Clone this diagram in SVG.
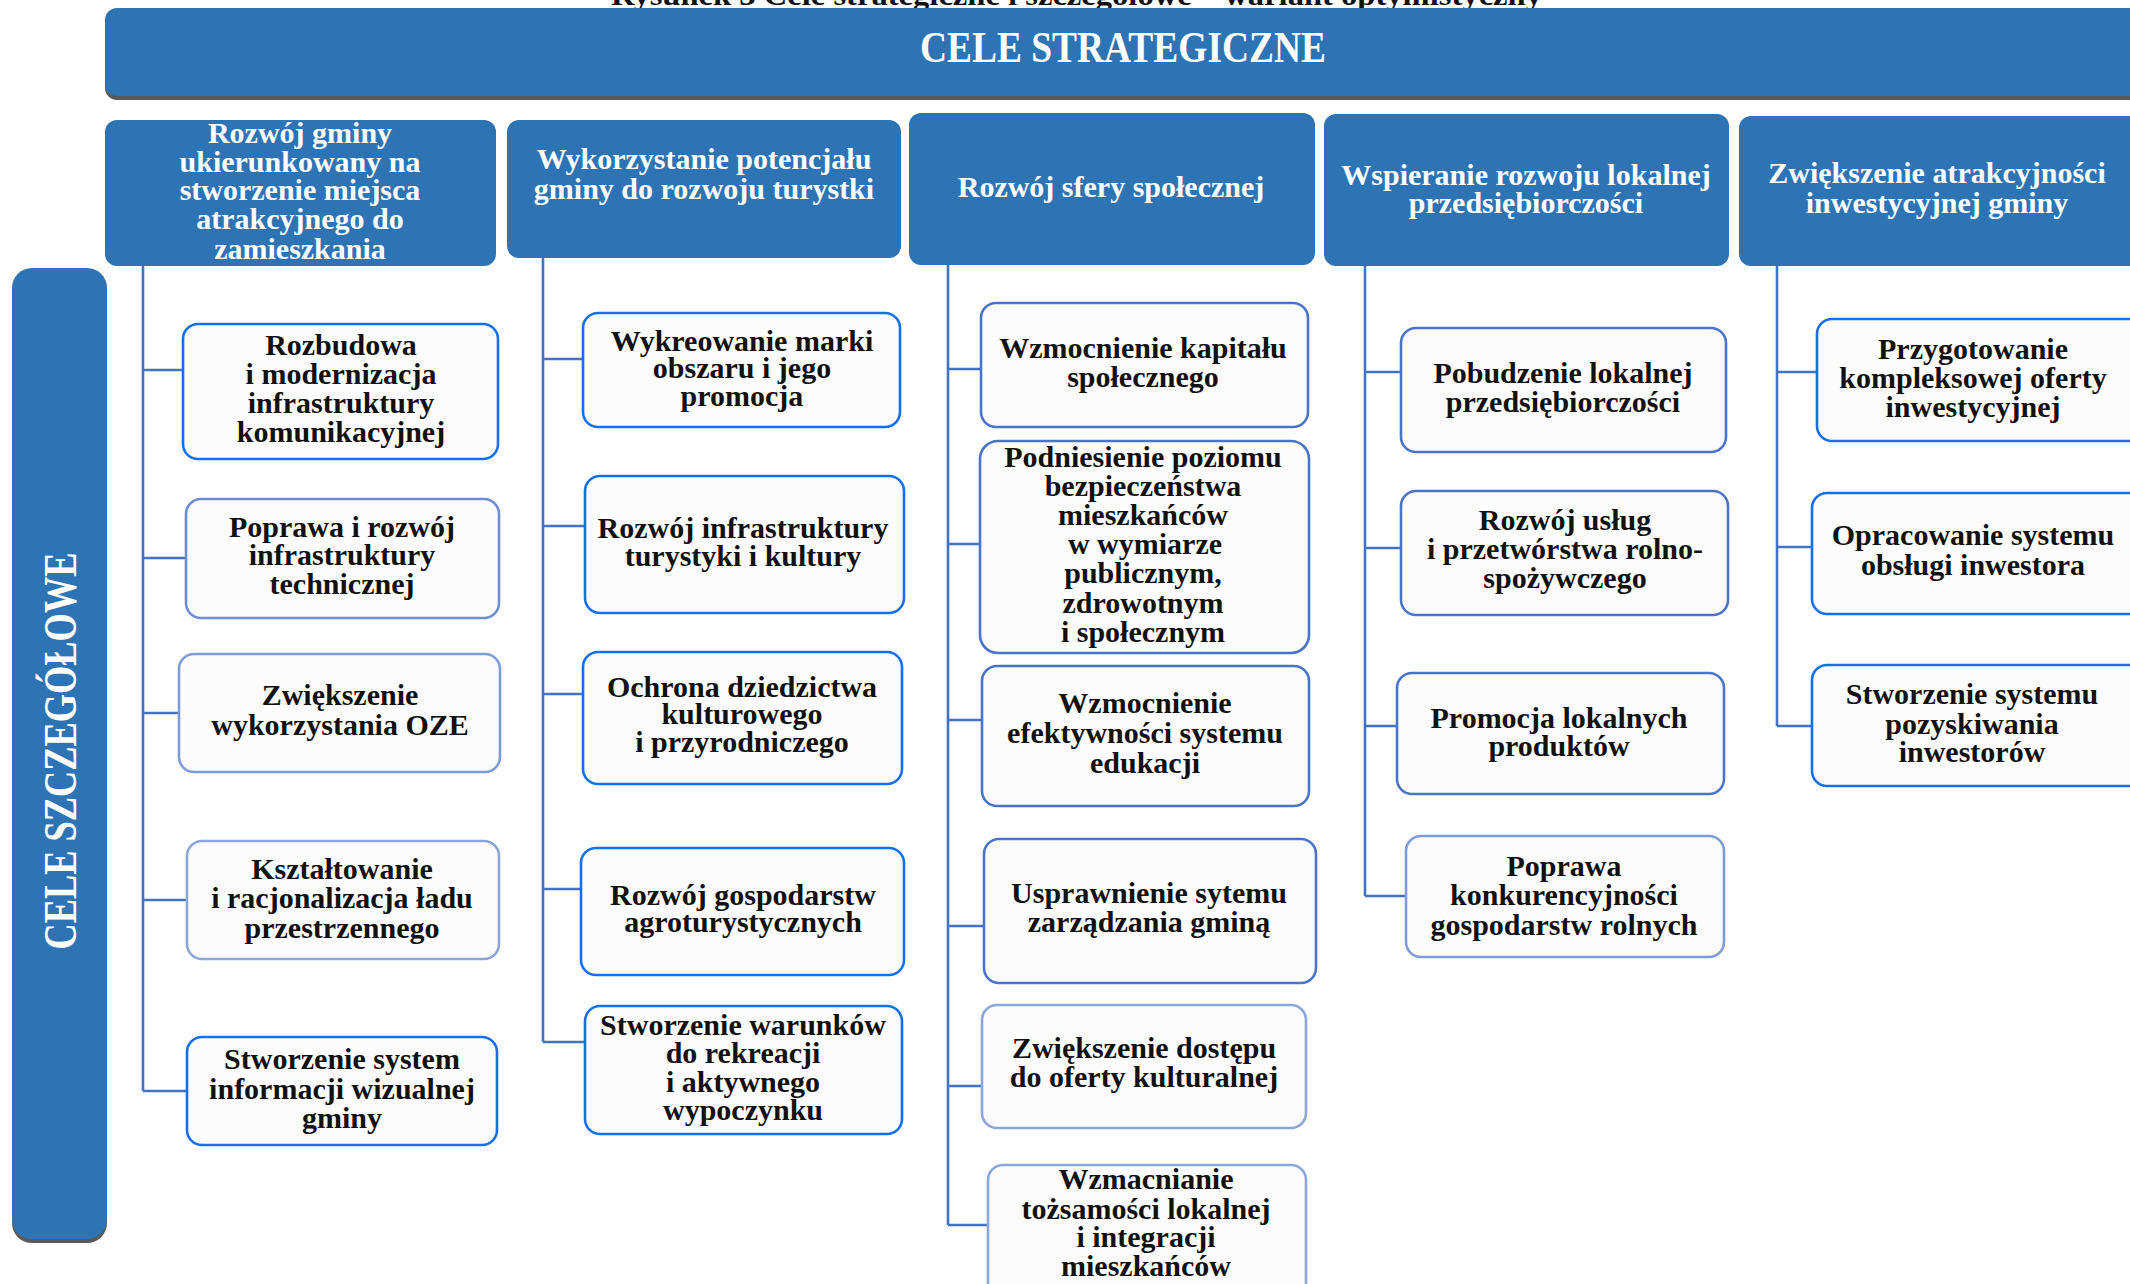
<svg xmlns="http://www.w3.org/2000/svg" width="2130" height="1284" viewBox="0 0 2130 1284">
<style>
.hdr{fill:#2E74B5}
.shadow{fill:#5a5a5a}
.ht{font-family:"Liberation Serif",serif;font-weight:bold;font-size:30px;fill:#fff;text-anchor:middle}
.box{fill:#fcfcfc;stroke-width:2.6}
.b1{stroke:#1470F0}
.b2{stroke:#4A74C8}
.b3{stroke:#8DA6DA}
.b4{stroke:#6E8ED4}
.b5{stroke:#7F9CD9}
.st{font-family:"Liberation Serif",serif;font-weight:bold;font-size:30px;fill:#111;text-anchor:middle}
.conn{stroke:#4472C4;stroke-width:2.6;fill:none}
</style>
<rect width="2130" height="1284" fill="#ffffff"/>
<text x="611" y="5" font-family="Liberation Serif, serif" font-weight="bold" font-size="30" fill="#111" textLength="931" lengthAdjust="spacingAndGlyphs">Rysunek 3 Cele strategiczne i szczegółowe – wariant optymistyczny</text>
<g id="banner">
<rect class="shadow" x="105" y="12" width="2050" height="88" rx="12"/>
<rect class="hdr" x="105" y="8" width="2050" height="88" rx="12"/>
<text x="1123" y="62" font-family="Liberation Serif, serif" font-weight="bold" font-size="44" fill="#fff" text-anchor="middle" textLength="406" lengthAdjust="spacingAndGlyphs">CELE STRATEGICZNE</text>
</g>
<g id="cele-szczegolowe">
<rect class="shadow" x="12" y="272" width="95" height="971" rx="20"/>
<rect class="hdr" x="12" y="268" width="95" height="971" rx="20"/>
<text transform="translate(76,751) rotate(-90)" x="0" y="0" font-family="Liberation Serif, serif" font-weight="bold" font-size="46" fill="#fff" text-anchor="middle" textLength="397" lengthAdjust="spacingAndGlyphs">CELE SZCZEGÓŁOWE</text>
</g>
<g id="connectors">
<path class="conn" d="M143 266V1091M143 370H183M143 558H186M143 713H179M143 900H187M143 1091H187"/>
<path class="conn" d="M543 258V1042M543 359H583M543 526H585M543 694H583M543 889H581M543 1042H585"/>
<path class="conn" d="M948 265V1225M948 369H981M948 544H980M948 720H982M948 926H984M948 1086H982M948 1225H988"/>
<path class="conn" d="M1365 266V896M1365 372H1401M1365 548H1401M1365 726H1397M1365 896H1406"/>
<path class="conn" d="M1777 266V726M1777 372H1817M1777 547H1812M1777 726H1812"/>
</g>
<g id="h1"><rect class="hdr" x="105" y="120" width="391" height="146" rx="12"/>
<text class="ht"><tspan x="300" y="143">Rozwój gminy</tspan><tspan x="300" y="172">ukierunkowany na</tspan><tspan x="300" y="200">stworzenie miejsca</tspan><tspan x="300" y="229">atrakcyjnego do</tspan><tspan x="300" y="259">zamieszkania</tspan></text></g>
<g id="h2"><rect class="hdr" x="507" y="120" width="394" height="138" rx="12"/>
<text class="ht"><tspan x="704" y="169">Wykorzystanie potencjału</tspan><tspan x="704" y="199">gminy do rozwoju turystki</tspan></text></g>
<g id="h3"><rect class="hdr" x="909" y="113" width="406" height="152" rx="12"/>
<text class="ht"><tspan x="1111" y="197">Rozwój sfery społecznej</tspan></text></g>
<g id="h4"><rect class="hdr" x="1324" y="114" width="405" height="152" rx="12"/>
<text class="ht"><tspan x="1526" y="185">Wspieranie rozwoju lokalnej</tspan><tspan x="1526" y="213">przedsiębiorczości</tspan></text></g>
<g id="h5"><rect class="hdr" x="1739" y="116" width="410" height="150" rx="12"/>
<text class="ht"><tspan x="1937" y="183">Zwiększenie atrakcyjności</tspan><tspan x="1937" y="213">inwestycyjnej gminy</tspan></text></g>

<g id="a"><rect class="box b1" x="183" y="324" width="315" height="135" rx="15"/>
<text class="st"><tspan x="341" y="355">Rozbudowa</tspan><tspan x="341" y="384">i modernizacja</tspan><tspan x="341" y="413">infrastruktury</tspan><tspan x="341" y="442">komunikacyjnej</tspan></text></g>
<g id="b"><rect class="box b4" x="186" y="499" width="313" height="119" rx="15"/>
<text class="st"><tspan x="342" y="537">Poprawa i rozwój</tspan><tspan x="342" y="565">infrastruktury</tspan><tspan x="342" y="594">technicznej</tspan></text></g>
<g id="c"><rect class="box b5" x="179" y="654" width="321" height="118" rx="15"/>
<text class="st"><tspan x="340" y="705">Zwiększenie</tspan><tspan x="340" y="735">wykorzystania OZE</tspan></text></g>
<g id="d"><rect class="box b3" x="187" y="841" width="312" height="118" rx="15"/>
<text class="st"><tspan x="342" y="879">Kształtowanie</tspan><tspan x="342" y="908">i racjonalizacja ładu</tspan><tspan x="342" y="938">przestrzennego</tspan></text></g>
<g id="e"><rect class="box b1" x="187" y="1037" width="310" height="108" rx="15"/>
<text class="st"><tspan x="342" y="1069">Stworzenie system</tspan><tspan x="342" y="1099">informacji wizualnej</tspan><tspan x="342" y="1128">gminy</tspan></text></g>

<g id="f"><rect class="box b1" x="583" y="313" width="317" height="114" rx="15"/>
<text class="st"><tspan x="742" y="351">Wykreowanie marki</tspan><tspan x="742" y="378">obszaru i jego</tspan><tspan x="742" y="406">promocja</tspan></text></g>
<g id="g"><rect class="box b1" x="585" y="476" width="319" height="137" rx="15"/>
<text class="st"><tspan x="743" y="538">Rozwój infrastruktury</tspan><tspan x="743" y="566">turystyki i kultury</tspan></text></g>
<g id="h"><rect class="box b1" x="583" y="652" width="319" height="132" rx="15"/>
<text class="st"><tspan x="742" y="697">Ochrona dziedzictwa</tspan><tspan x="742" y="724">kulturowego</tspan><tspan x="742" y="752">i przyrodniczego</tspan></text></g>
<g id="i"><rect class="box b1" x="581" y="848" width="323" height="127" rx="15"/>
<text class="st"><tspan x="743" y="905">Rozwój gospodarstw</tspan><tspan x="743" y="932">agroturystycznych</tspan></text></g>
<g id="j"><rect class="box b1" x="585" y="1006" width="317" height="128" rx="15"/>
<text class="st"><tspan x="743" y="1035">Stworzenie warunków</tspan><tspan x="743" y="1063">do rekreacji</tspan><tspan x="743" y="1092">i aktywnego</tspan><tspan x="743" y="1120">wypoczynku</tspan></text></g>

<g id="k"><rect class="box b2" x="981" y="303" width="327" height="124" rx="15"/>
<text class="st"><tspan x="1143" y="358">Wzmocnienie kapitału</tspan><tspan x="1143" y="387">społecznego</tspan></text></g>
<g id="l"><rect class="box b2" x="980" y="441" width="329" height="212" rx="18"/>
<text class="st"><tspan x="1143" y="467">Podniesienie poziomu</tspan><tspan x="1143" y="496">bezpieczeństwa</tspan><tspan x="1143" y="525">mieszkańców</tspan><tspan x="1145" y="554">w wymiarze</tspan><tspan x="1143" y="583">publicznym,</tspan><tspan x="1143" y="613">zdrowotnym</tspan><tspan x="1143" y="642">i społecznym</tspan></text></g>
<g id="m"><rect class="box b2" x="982" y="666" width="327" height="140" rx="15"/>
<text class="st"><tspan x="1145" y="713">Wzmocnienie</tspan><tspan x="1145" y="743">efektywności systemu</tspan><tspan x="1145" y="773">edukacji</tspan></text></g>
<g id="n"><rect class="box b2" x="984" y="839" width="332" height="144" rx="15"/>
<text class="st"><tspan x="1149" y="903">Usprawnienie sytemu</tspan><tspan x="1149" y="932">zarządzania gminą</tspan></text></g>
<g id="o"><rect class="box b3" x="982" y="1005" width="324" height="123" rx="15"/>
<text class="st"><tspan x="1144" y="1058">Zwiększenie dostępu</tspan><tspan x="1144" y="1087">do oferty kulturalnej</tspan></text></g>
<g id="p"><rect class="box b3" x="988" y="1165" width="318" height="140" rx="15"/>
<text class="st"><tspan x="1146" y="1189">Wzmacnianie</tspan><tspan x="1146" y="1219">tożsamości lokalnej</tspan><tspan x="1146" y="1247">i integracji</tspan><tspan x="1146" y="1276">mieszkańców</tspan></text></g>

<g id="q"><rect class="box b2" x="1401" y="328" width="325" height="124" rx="15"/>
<text class="st"><tspan x="1563" y="383">Pobudzenie lokalnej</tspan><tspan x="1563" y="412">przedsiębiorczości</tspan></text></g>
<g id="r"><rect class="box b2" x="1401" y="491" width="327" height="124" rx="15"/>
<text class="st"><tspan x="1565" y="530">Rozwój usług</tspan><tspan x="1565" y="559">i przetwórstwa rolno-</tspan><tspan x="1565" y="588">spożywczego</tspan></text></g>
<g id="s"><rect class="box b2" x="1397" y="673" width="327" height="121" rx="15"/>
<text class="st"><tspan x="1559" y="728">Promocja lokalnych</tspan><tspan x="1559" y="756">produktów</tspan></text></g>
<g id="t"><rect class="box b5" x="1406" y="836" width="318" height="121" rx="15"/>
<text class="st"><tspan x="1564" y="876">Poprawa</tspan><tspan x="1564" y="905">konkurencyjności</tspan><tspan x="1564" y="935">gospodarstw rolnych</tspan></text></g>

<g id="u"><rect class="box b1" x="1817" y="319" width="330" height="122" rx="15"/>
<text class="st"><tspan x="1973" y="359">Przygotowanie</tspan><tspan x="1973" y="388">kompleksowej oferty</tspan><tspan x="1973" y="417">inwestycyjnej</tspan></text></g>
<g id="v"><rect class="box b1" x="1812" y="493" width="335" height="121" rx="15"/>
<text class="st"><tspan x="1973" y="545">Opracowanie systemu</tspan><tspan x="1973" y="575">obsługi inwestora</tspan></text></g>
<g id="w"><rect class="box b1" x="1812" y="665" width="335" height="121" rx="15"/>
<text class="st"><tspan x="1972" y="704">Stworzenie systemu</tspan><tspan x="1972" y="734">pozyskiwania</tspan><tspan x="1972" y="762">inwestorów</tspan></text></g>
</svg>
